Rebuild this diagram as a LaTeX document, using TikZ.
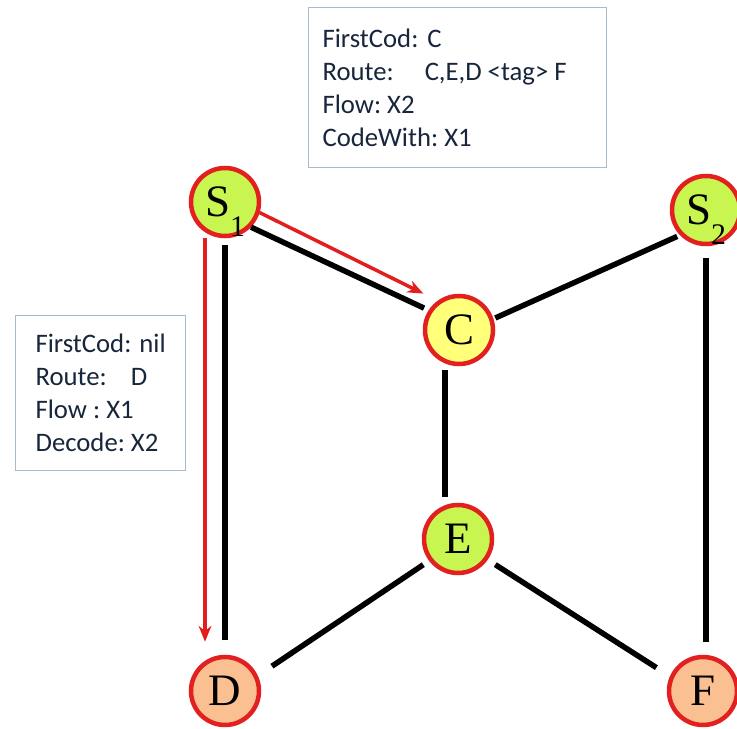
\documentclass[tikz,border=0pt]{standalone}
\usepackage{fontspec}
\setmainfont{Carlito}
\newfontfamily\labelfont{Liberation Serif}
\usetikzlibrary{arrows.meta}
\usetikzlibrary{positioning}
\frenchspacing

\newdimen\pix
\pix=0.02cm
\newcommand{\lowsub}[1]{\raisebox{-0.45em}[0pt][0pt]{\fontsize{17}{17}\selectfont #1}}

\definecolor{ringred}{RGB}{226,32,32}
\definecolor{limefill}{RGB}{200,245,80}
\definecolor{yellowfill}{RGB}{255,255,122}
\definecolor{peachfill}{RGB}{250,192,146}
\definecolor{boxline}{RGB}{165,188,208}
\definecolor{boxtext}{RGB}{24,38,60}
\definecolor{flowred}{RGB}{226,30,30}

\tikzset{
    router/.style={circle, draw=ringred, line width=4.5\pix, minimum size=68\pix,
        inner sep=0pt, font=\labelfont\fontsize{25.6}{26}\selectfont},
    greennode/.style={router, fill=limefill},
    yellownode/.style={router, fill=yellowfill},
    peachnode/.style={router, fill=peachfill},
    link/.style={line width=5.5\pix},
    flow/.style={draw=flowred, line width=3.5\pix, -{Stealth[length=9pt,width=7.2pt]}},
    infobox/.style={draw=boxline, line width=1.2\pix, text=boxtext, align=flush left,
        anchor=north west, font=\fontsize{15.2}{18.8}\selectfont}
}

\begin{document}
\begin{tikzpicture}[x=0.02cm, y=-0.02cm]
    \path[use as bounding box, fill=white] (0,0) rectangle (737,729);

    % Nodes
    \node[greennode] (S1) at (225,202) {S\lowsub{1}};
    \node[greennode] (S2) at (706,210) {S\lowsub{2}};
    \node[yellownode] (C) at (459,330) {C};
    \node[greennode] (E) at (458,539) {E};
    \node[peachnode] (D) at (225,691) {D};
    \node[peachnode] (F) at (703,691) {F};

    % Links
    \draw[link, shorten >=5\pix] (S1.-44) -- (C.147);
    \draw[link, shorten <=7\pix, shorten >=15\pix] (S1.south) -- (D.north);
    \draw[link, shorten <=2\pix, shorten >=3\pix] (C.18) -- (S2.224);
    \draw[link, shorten <=4\pix, shorten >=6\pix] ([xshift=-14\pix]C.south) -- ([xshift=-14\pix]C.south |- E.north);
    \draw[link, shorten <=7\pix, shorten >=17\pix] (E.217) -- (D.25);
    \draw[link, shorten <=9\pix, shorten >=16\pix] (E.-35) -- (F.156);
    \draw[link, shorten <=12\pix, shorten >=13\pix] (S2.south) -- (S2.south |- F.north);

    % Flows
    \draw[flow, shorten >=13\pix] ([xshift=-20\pix]S1.south) -- ([xshift=-20\pix]D.north);
    \draw[flow, shorten >=16\pix] (S1.-17) -- (C.126);

    % Info boxes
    \node[infobox, text width=270\pix, inner xsep=14\pix, minimum height=160\pix] (codebox) at (308,7)
        {FirstCod:\hspace{9\pix}C\\ Route:\hspace{31\pix}C,E,D <tag> F\\ Flow: X2\\ CodeWith: X1};
    \node[infobox, inner xsep=20\pix, minimum height=155\pix] (decodebox) at (15,315)
        {FirstCod:\hspace{8\pix}nil\\ Route:\hspace{24\pix}D\\ Flow : X1\\ Decode: X2};

\end{tikzpicture}
\end{document}
